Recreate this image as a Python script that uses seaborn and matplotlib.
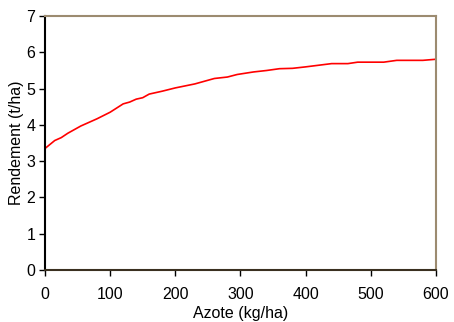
import matplotlib
matplotlib.use('Agg')
import matplotlib.pyplot as plt
import seaborn as sns
import pandas as pd

azote = [0, 15, 25, 35, 55, 80, 100, 120, 130, 140, 150, 160, 180, 200, 230, 260, 280,
         295, 320, 340, 360, 380, 400, 440, 465, 480, 520, 540, 580, 600]
rendement = [3.35, 3.57, 3.65, 3.77, 3.97, 4.17, 4.35, 4.58, 4.63, 4.71, 4.75, 4.85, 4.93,
             5.02, 5.13, 5.28, 5.32, 5.39, 5.46, 5.50, 5.55, 5.56, 5.60, 5.69, 5.69, 5.73,
             5.73, 5.78, 5.78, 5.81]

x_ticks = [0, 100, 200, 300, 400, 500, 600]
y_ticks = [0, 1, 2, 3, 4, 5, 6, 7]

data = pd.DataFrame({'azote': azote, 'rendement': rendement})

sns.set_style('ticks')
plt.rcParams['font.family'] = ['Liberation Sans', 'DejaVu Sans']
plt.rcParams['text.color'] = 'black'
plt.rcParams['axes.labelcolor'] = 'black'
plt.rcParams['xtick.color'] = 'black'
plt.rcParams['ytick.color'] = 'black'

fig = plt.figure(figsize=[4.54, 3.22], dpi=100)
ax = fig.add_axes([0.0991, 0.1615, 0.8609, 0.7885])
sns.lineplot(data=data, x='azote', y='rendement', color='#ff0000', linewidth=1.2, ax=ax)

ax.set_xlim(0, 600)
ax.set_ylim(0, 7)
ax.set_xticks(x_ticks)
ax.set_yticks(y_ticks)
ax.tick_params(labelsize=11.5, length=4, width=1, direction='out')
ax.tick_params(axis='x', pad=8)
ax.tick_params(axis='y', pad=3)
ax.set_xlabel('Azote (kg/ha)', fontsize=11.5, labelpad=3)
ax.set_ylabel('Rendement (t/ha)', fontsize=11.5, labelpad=1.5)

for side in ['top', 'right']:
    ax.spines[side].set_visible(True)
    ax.spines[side].set_color('#9c8b70')
    ax.spines[side].set_linewidth(1.5)
ax.spines['left'].set_color('black')
ax.spines['left'].set_linewidth(1.5)
ax.spines['bottom'].set_color('#3a3020')
ax.spines['bottom'].set_linewidth(1.5)

fig.savefig('out.png', dpi=100)
